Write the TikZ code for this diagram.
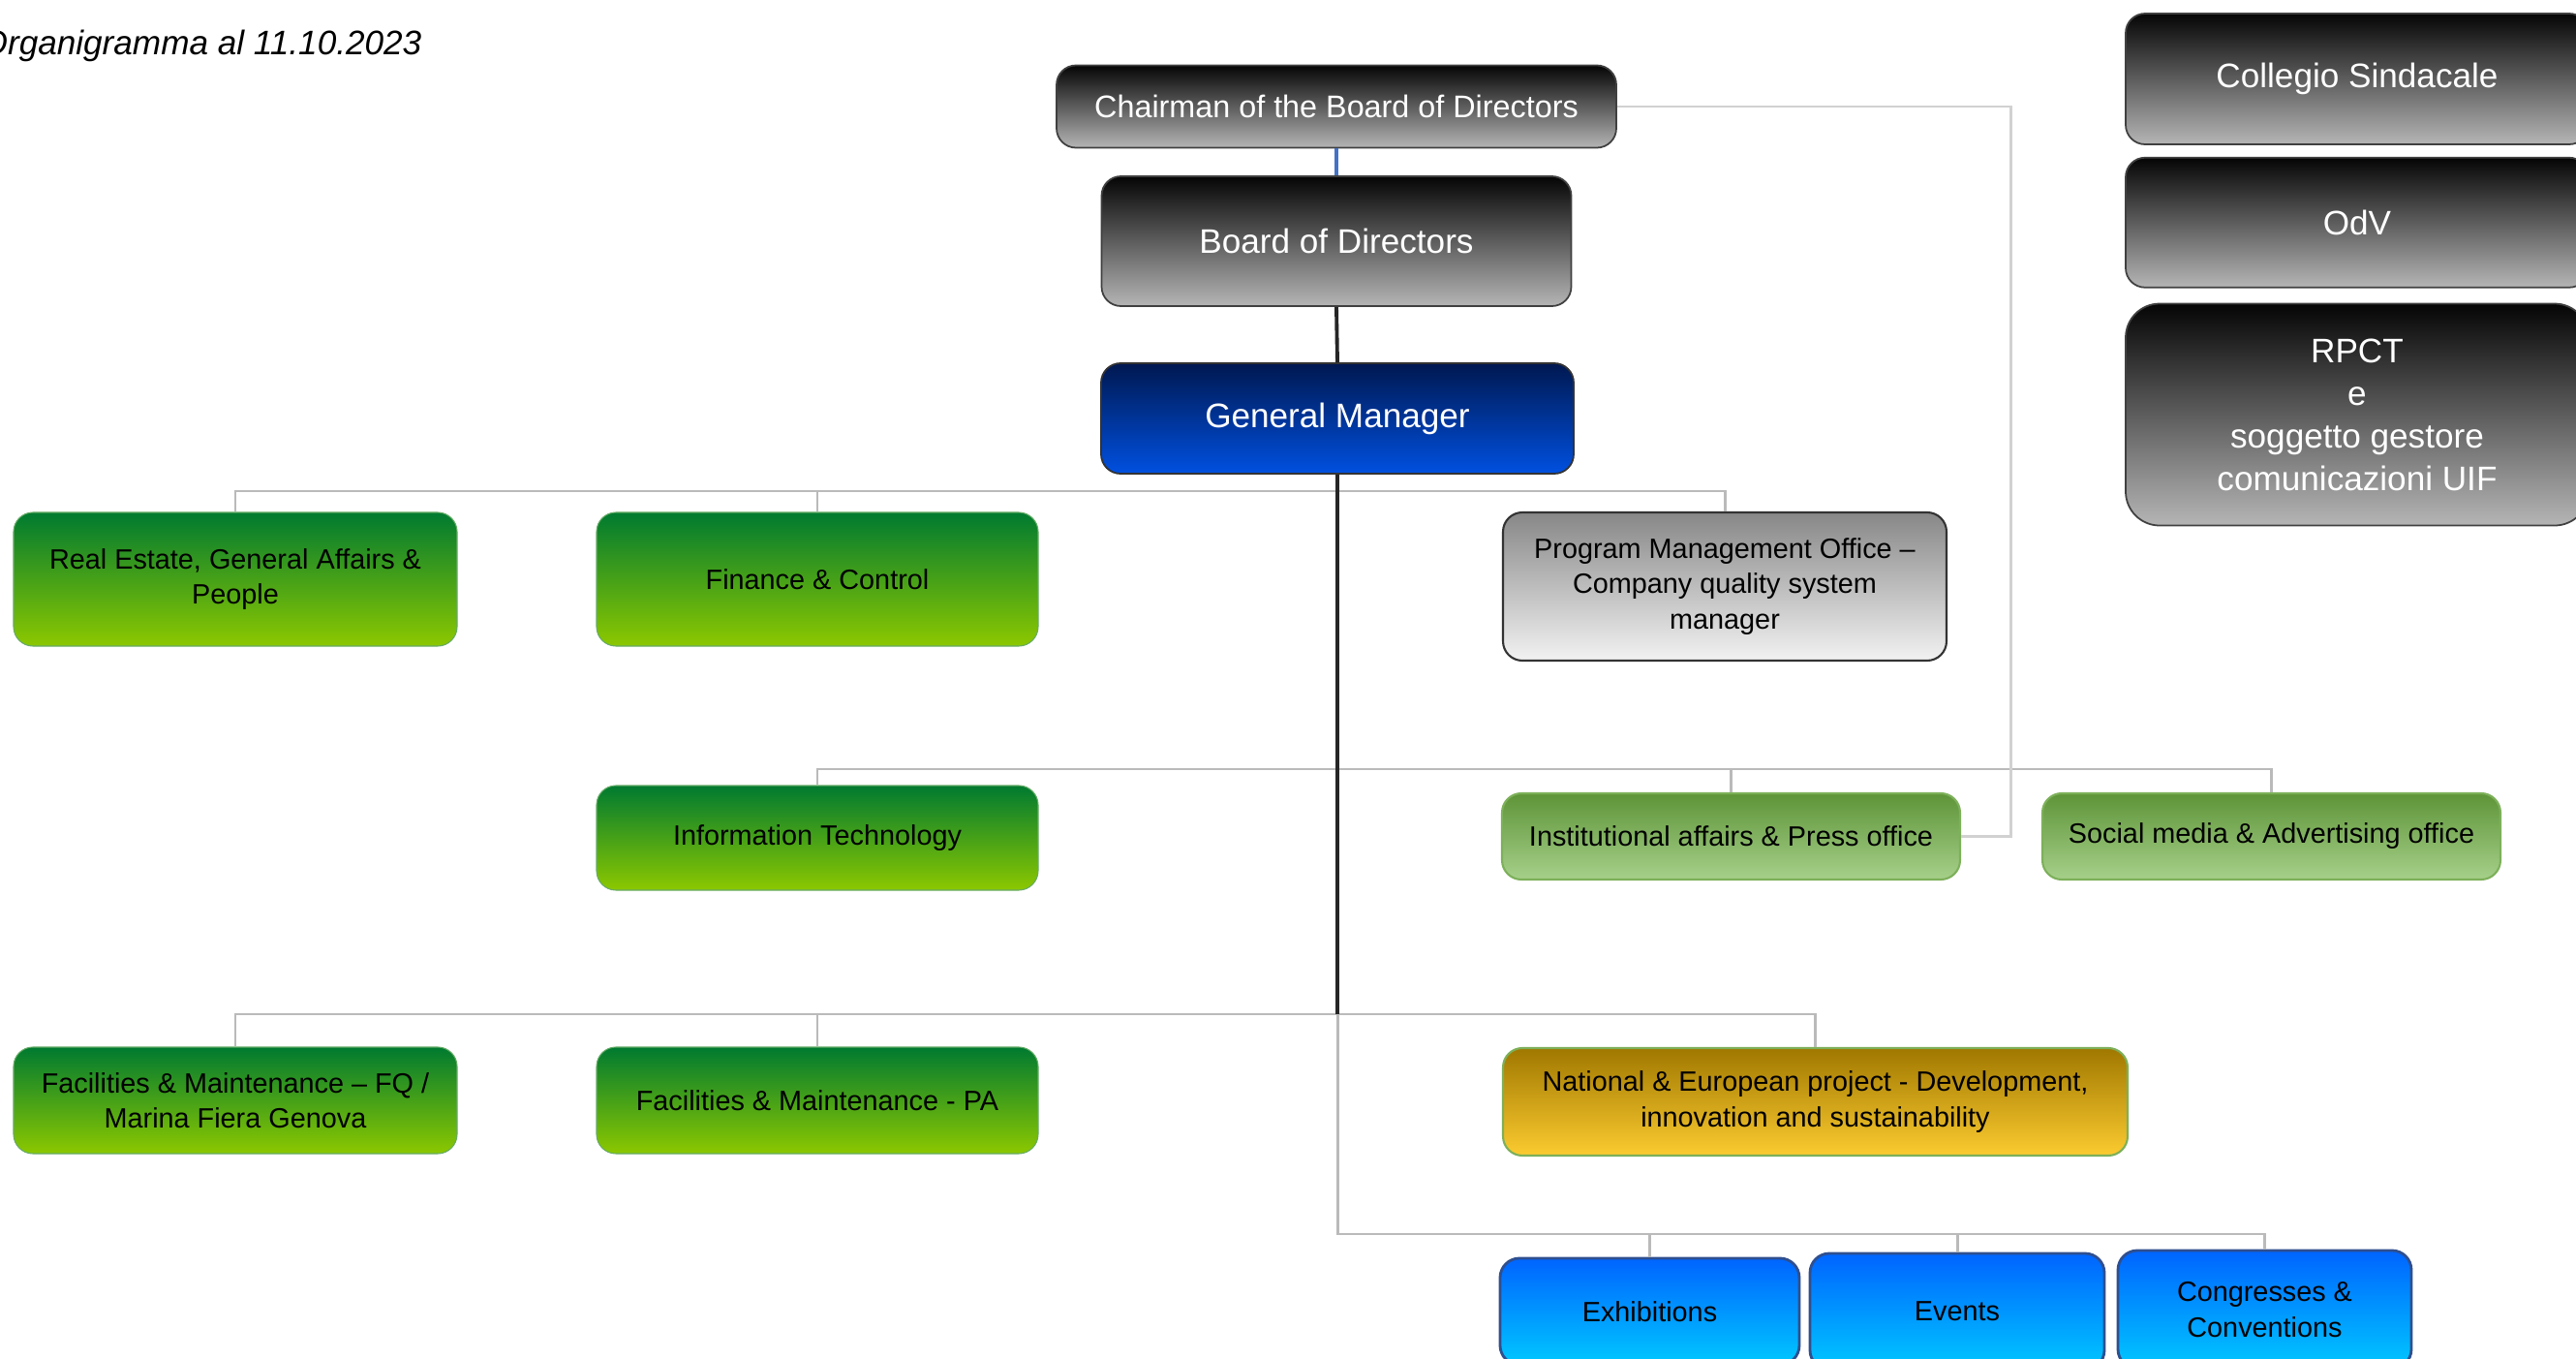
\documentclass[tikz,border=0pt]{standalone}
\usepackage{fontspec}
\setmainfont{Liberation Sans}
\usepackage{tikz}
\usetikzlibrary{positioning, shadings}

\newcommand{\bigfont}{\fontsize{10}{12.5}\selectfont}
\newcommand{\midfont}{\fontsize{9.2}{11.5}\selectfont}
\newcommand{\smallfont}{\fontsize{8.2}{10.3}\selectfont}

\begin{document}
\begin{tikzpicture}[
  box/.style      = {rounded corners=0.2cm, inner sep=0pt, align=center},
  darkbox/.style  = {box, draw=black!75, line width=0.5pt, top color=black!98, bottom color=black!29,
                     text=white, font=\bigfont},
  navybox/.style  = {box, draw=black!80, line width=0.5pt, top color=navytop, middle color=navymid,
                     bottom color=navybot, text=white, font=\bigfont},
  greenbox/.style = {box, draw=green!45!black!60, line width=0.3pt, top color=greentop,
                     middle color=greenmid, bottom color=greenbot, font=\smallfont},
  lgreenbox/.style= {box, draw=lgreenline, line width=0.6pt, top color=lgreentop,
                     bottom color=lgreenbot, font=\smallfont},
  pmobox/.style   = {box, draw=black!80, line width=0.6pt, top color=black!47,
                     bottom color=black!5, font=\smallfont},
  goldbox/.style  = {box, draw=lgreenline, line width=0.6pt, top color=goldtop, middle color=goldmid,
                     bottom color=goldbot, font=\smallfont},
  bluebox/.style  = {box, draw=blueline, line width=0.8pt, top color=bluetop, bottom color=bluebot,
                     font=\smallfont},
  bus/.style      = {draw=black!27, line width=0.85pt},
  trunk/.style    = {draw=black!85, line width=1.1pt},
]
\definecolor{navytop}{HTML}{001850}
\definecolor{navymid}{HTML}{00216C}
\definecolor{navybot}{HTML}{0050E0}
\definecolor{greentop}{HTML}{007A30}
\definecolor{greenmid}{HTML}{009400}
\definecolor{greenbot}{HTML}{8CC800}
\definecolor{lgreentop}{HTML}{5E9438}
\definecolor{lgreenbot}{HTML}{A6D08A}
\definecolor{lgreenline}{HTML}{7DB05A}
\definecolor{goldtop}{HTML}{A07800}
\definecolor{goldmid}{HTML}{DAA800}
\definecolor{goldbot}{HTML}{FCCB30}
\definecolor{bluetop}{HTML}{0064FF}
\definecolor{bluebot}{HTML}{00C8FF}
\definecolor{blueline}{HTML}{2F4F8F}
\definecolor{chairblue}{HTML}{4472C4}

\useasboundingbox (0,0) rectangle (26.6,-14.03);

%--- title ---
  \node[anchor=east, inner sep=0pt, font=\bigfont\itshape] (title) at (4.36,-0.475)
        {Organigramma al 11.10.2023};

%--- top of the chart ---
  \node[darkbox, font=\midfont, minimum width=5.78cm, minimum height=0.85cm] (chair) at (13.80,-1.10)
        {Chairman of the Board of Directors};
  \node[darkbox, minimum width=4.85cm, minimum height=1.34cm] (board) at (13.80,-2.49)
        {Board of Directors};
  \node[navybox, minimum width=4.88cm, minimum height=1.14cm] (gm) at (13.81,-4.32)
        {General Manager};

%--- control bodies (right column) ---
  \node[darkbox, minimum width=4.78cm, minimum height=1.35cm] (colleg) at (24.34,-0.815)
        {Collegio Sindacale};
  \node[darkbox, minimum width=4.78cm, minimum height=1.34cm, below=0.12cm of colleg] (odv)
        {OdV};
  \node[darkbox, rounded corners=0.35cm, minimum width=4.78cm, minimum height=2.29cm,
        below=0.15cm of odv] (rpct)
        {RPCT\\e\\soggetto gestore\\comunicazioni UIF};

%--- first level ---
  \node[greenbox, minimum width=4.58cm, minimum height=1.38cm] (realest) at (2.43,-5.98)
        {Real Estate, General Affairs \&\\People};
  \node[greenbox, minimum width=4.56cm, minimum height=1.38cm] (finance) at (8.44,-5.98)
        {Finance \& Control};
  \node[pmobox, minimum width=4.58cm, minimum height=1.53cm] (pmo) at (17.81,-6.055)
        {Program Management Office --\\Company quality system\\manager};

%--- second level ---
  \node[greenbox, minimum width=4.56cm, minimum height=1.08cm] (it) at (8.44,-8.65)
        {Information Technology};
  \node[lgreenbox, minimum width=4.73cm, minimum height=0.89cm] (inst) at (17.875,-8.635)
        {Institutional affairs \& Press office};
  \node[lgreenbox, minimum width=4.73cm, minimum height=0.89cm] (social) at (23.455,-8.635)
        {Social media \& Advertising office};

%--- third level ---
  \node[greenbox, minimum width=4.58cm, minimum height=1.10cm] (fq) at (2.43,-11.36)
        {Facilities \& Maintenance -- FQ /\\Marina Fiera Genova};
  \node[greenbox, minimum width=4.56cm, minimum height=1.10cm] (pa) at (8.44,-11.36)
        {Facilities \& Maintenance - PA};
  \node[goldbox, minimum width=6.45cm, minimum height=1.11cm] (natl) at (18.745,-11.375)
        {National \& European project - Development,\\innovation and sustainability};

%--- business units ---
  \node[bluebox, minimum width=3.09cm, minimum height=1.10cm] (exhib) at (17.035,-13.54)
        {Exhibitions};
  \node[bluebox, minimum width=3.04cm, minimum height=1.20cm] (events) at (20.21,-13.54)
        {Events};
  \node[bluebox, minimum width=3.03cm, minimum height=1.22cm] (congr) at (23.385,-13.52)
        {Congresses \&\\Conventions};

%--- connectors ---
  \coordinate (b1)  at (13.81,-5.07);
  \coordinate (b2)  at (13.81,-7.94);
  \coordinate (b3)  at (13.81,-10.47);
  \coordinate (b4)  at (13.81,-12.74);
  \coordinate (chr) at (20.76,-1.10);

  \draw[bus] (realest.north) |- (b1) -| (pmo.north);
  \draw[bus] (finance.north) |- (b1);
  \draw[bus] (it.north) |- (b2) -| (social.north);
  \draw[bus] (inst.north) |- (b2);
  \draw[bus] (fq.north) |- (b3) -| (natl.north);
  \draw[bus] (pa.north) |- (b3);
  \draw[bus] (b3) -- (b4) -| (congr.north);
  \draw[bus] (exhib.north) |- (b4);
  \draw[bus] (events.north) |- (b4);
  \draw[bus, draw=black!18] (chair.east) -- (chr) |- (inst.east);

  \draw[chairblue, line width=0.9pt] (chair.south) -- (board.north);
  \draw[trunk] (board.south) -- (gm.north);
  \draw[trunk] (gm.south) -- (b3);
\end{tikzpicture}
\end{document}
